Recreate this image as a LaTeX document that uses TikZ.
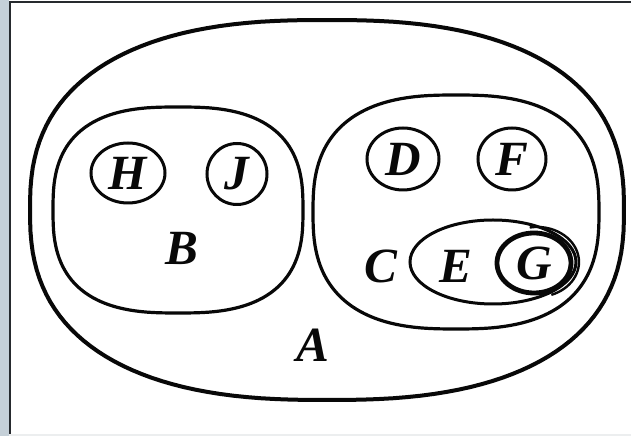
\documentclass[tikz,border=0pt]{standalone}
\usepackage{xcolor}
\usepackage{fontspec}
\setmainfont{Liberation Serif}
\usepackage{tikz}
\usetikzlibrary{shapes.geometric, positioning}
\definecolor{FrameGray}{RGB}{197, 208, 216}
\definecolor{FrameDark}{RGB}{38, 42, 46}
\definecolor{FrameLight}{RGB}{236, 238, 239}
\definecolor{SetInk}{RGB}{8, 8, 8}

\tikzset{
  setline/.style={draw=SetInk, line width=0.8mm, line join=round},
  setoval/.style={ellipse, draw=SetInk, line width=0.75mm, inner sep=0pt},
  setlabel/.style={inner sep=0pt, text=SetInk,
    font=\fontsize{35}{35}\selectfont\bfseries\itshape}
}

\begin{document}
\begin{tikzpicture}[x=0.25mm,y=0.25mm]
  \path[use as bounding box] (0,0) rectangle (631,436);
  \fill[white] (0,0) rectangle (631,436);
  \fill[FrameGray] (0,0) rectangle (9,436);
  \fill[FrameLight] (9,0) rectangle (631,2);
  \draw[FrameDark, line width=0.5mm] (10,2) -- (10,434) -- (631,434);

  % outer set A and the two big subsets
  \draw[setline, line width=1mm] plot[domain=1.25:361.25, samples=145]
    ({327+297*sign(cos(\x))*pow(abs(cos(\x)),0.8)},
     {226+190*sign(sin(\x))*pow(abs(sin(\x)),0.8)}) -- cycle;
  \draw[setline] plot[domain=1.25:361.25, samples=145]
    ({178+125*sign(cos(\x))*pow(abs(cos(\x)),0.74)},
     {226+103*sign(sin(\x))*pow(abs(sin(\x)),0.74)}) -- cycle;
  \draw[setline] plot[domain=1.25:361.25, samples=145]
    ({456+143*sign(cos(\x))*pow(abs(cos(\x)),0.76)},
     {224+117*sign(sin(\x))*pow(abs(sin(\x)),0.76)}) -- cycle;

  % small sets
  \node[setoval, minimum width=18.5mm, minimum height=15mm, setlabel] (H) at (128,263) {H};
  \node[setoval, minimum width=15mm, minimum height=15.25mm, setlabel] (J) at (237,262) {J};
  \node[setoval, minimum width=18mm, minimum height=15.5mm, setlabel] (D) at (403,277) {D};
  \node[setoval, minimum width=17mm, minimum height=15.5mm, setlabel] (F) at (512,277) {F};
  \node[setoval, minimum width=41.5mm, minimum height=21mm] (E) at (493,174) {};
  \node[setoval, line width=1.2mm, minimum width=18.5mm, minimum height=15mm, setlabel] (G) at (534,173) {G};
  \draw[setline, line width=0.6mm] (529.7,208.5)
    arc[start angle=100, end angle=-70, x radius=42, y radius=35];

  % labels
  \node[setlabel] (Elab) at (456,170) {E};
  \node[setlabel] (Blab) at (182,188) {B};
  \node[setlabel] (Clab) at (381,170) {C};
  \node[setlabel] (Alab) at (313,91) {A};
\end{tikzpicture}
\end{document}
